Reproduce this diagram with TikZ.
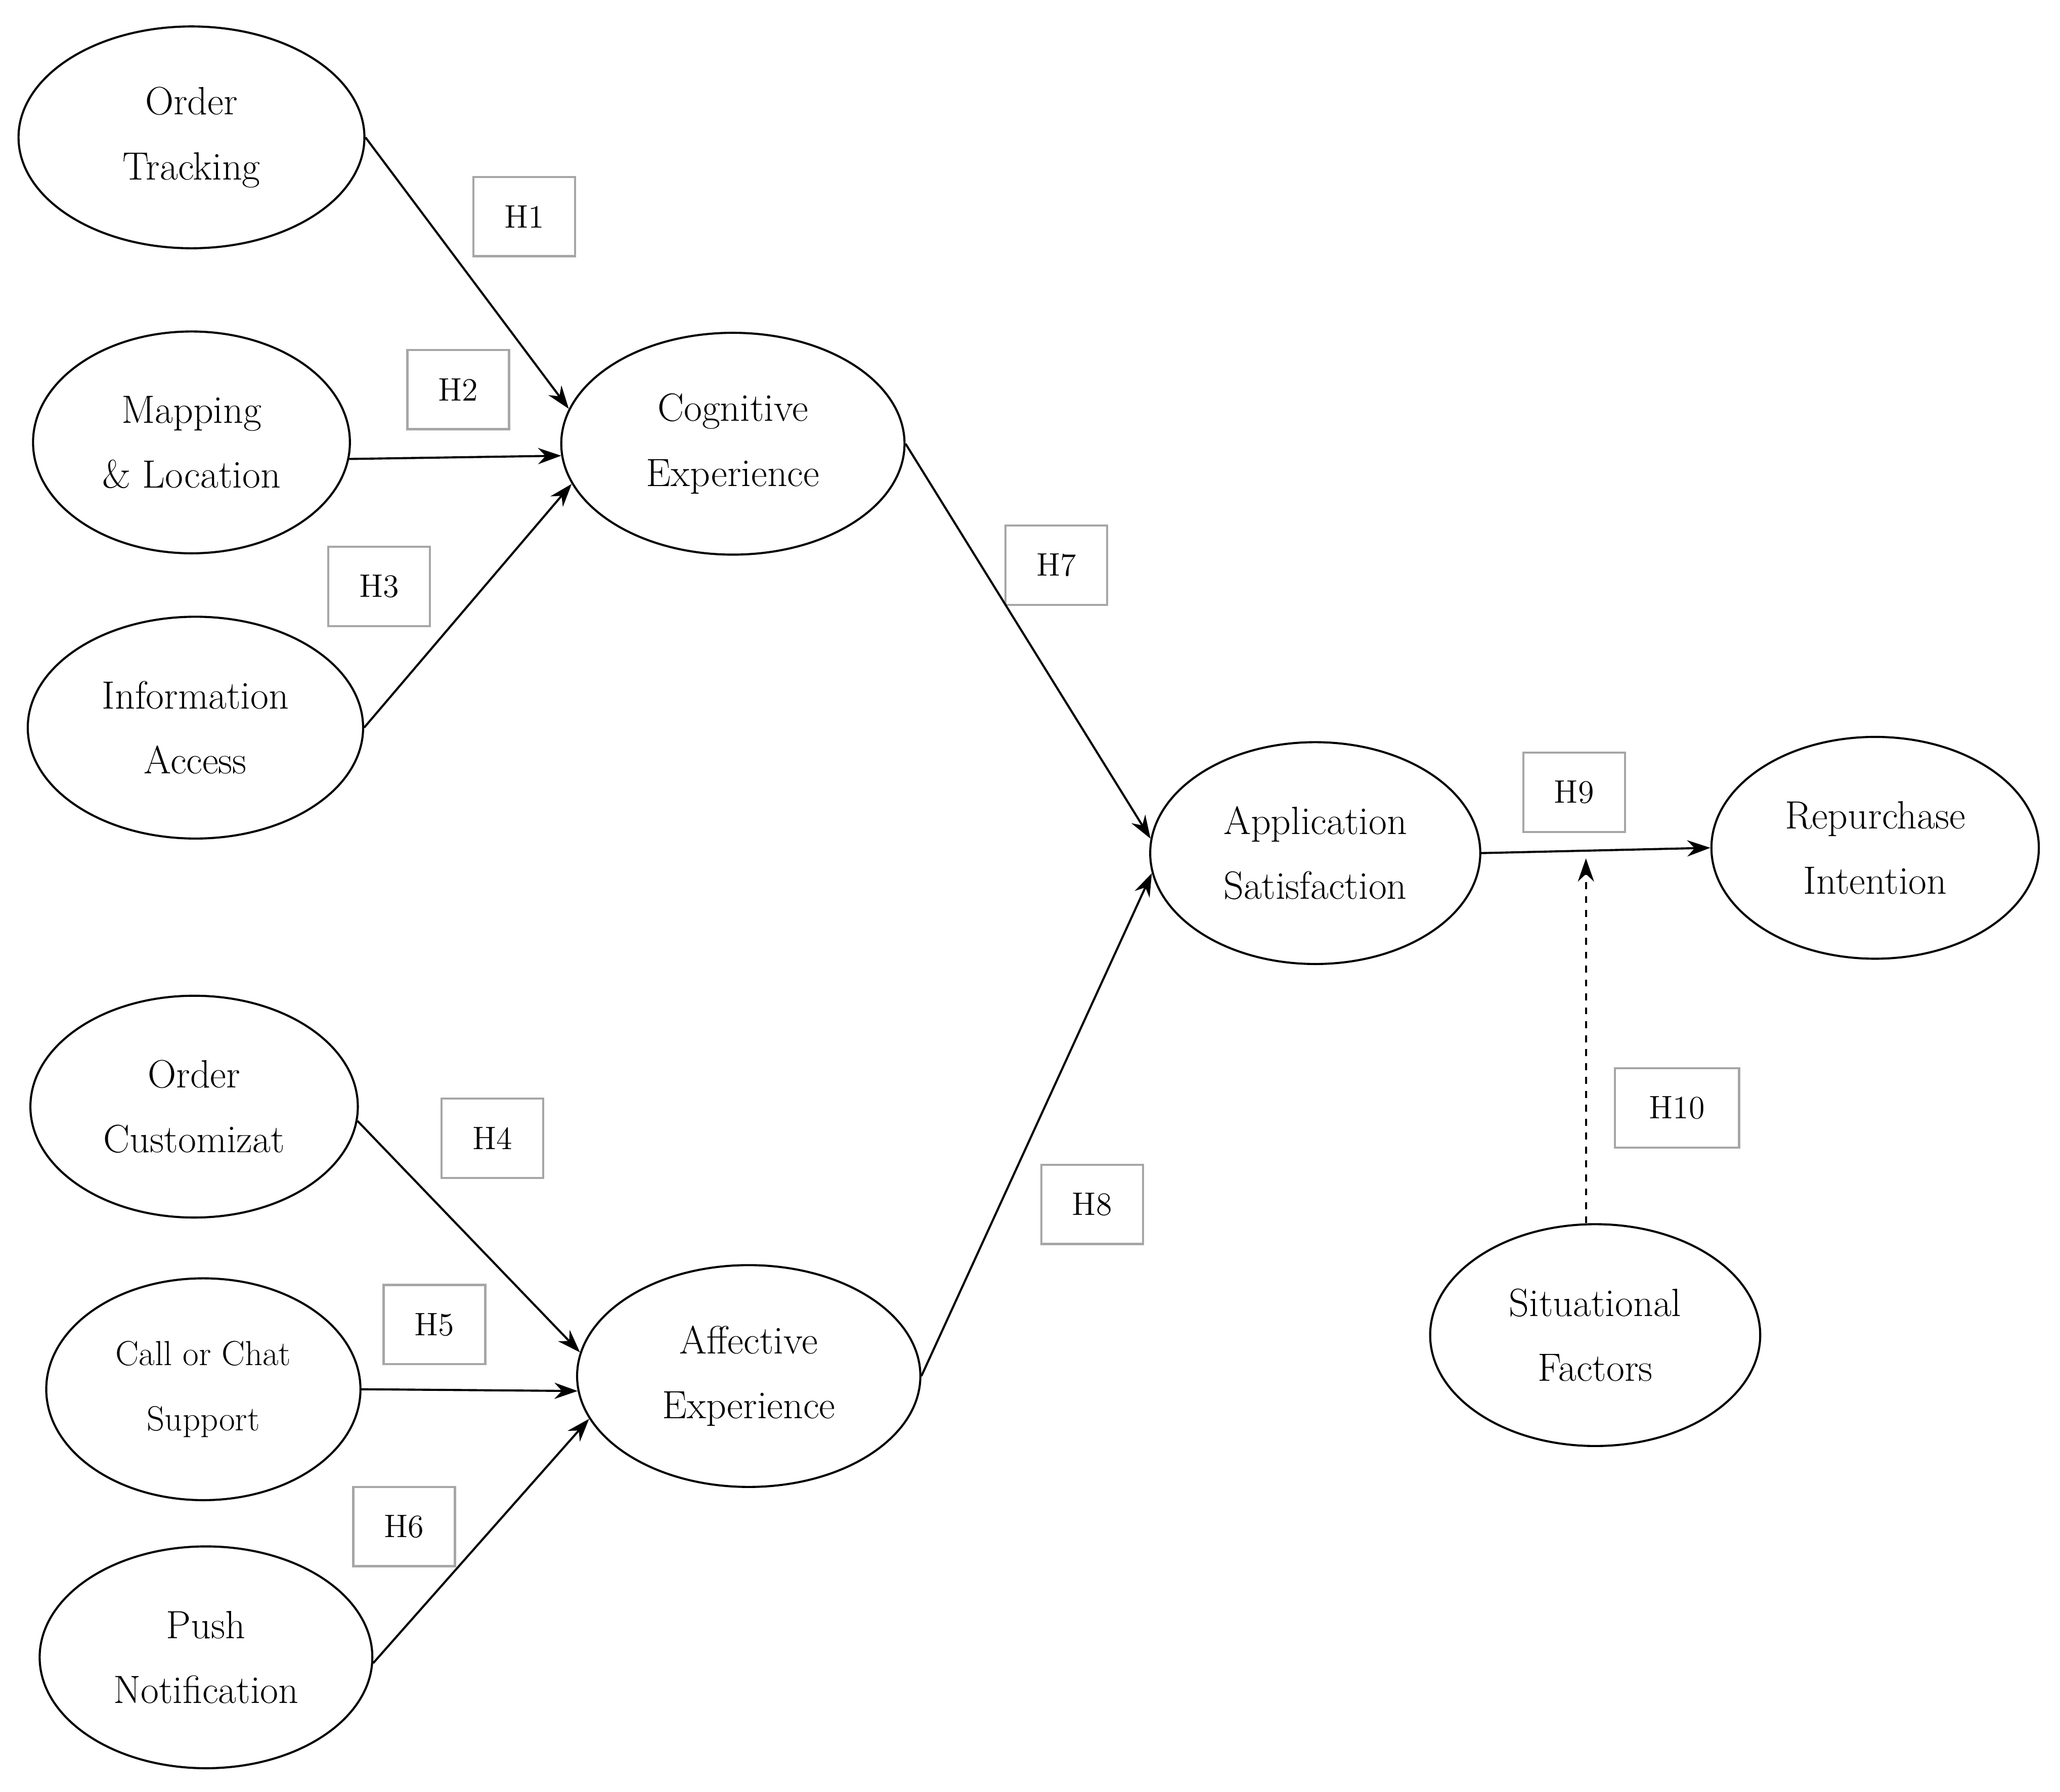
\documentclass[tikz,border=0pt]{standalone}
\usetikzlibrary{shapes.geometric,arrows.meta}
\tikzset{
  construct/.style={ellipse, draw, line width=0.9pt, inner sep=0pt, align=center,
    font=\fontsize{17}{28}\selectfont},
  hyp/.style={draw=gray!70, line width=0.9pt, minimum width=1.54cm, minimum height=1.2cm,
    font=\fontsize{14}{16}\selectfont},
  path/.style={line width=0.9pt, -{Stealth[length=10pt,width=7pt]}}
}
\begin{document}
\begin{tikzpicture}[x=0.02cm, y=-0.02cm]
\useasboundingbox (0,0) rectangle (1560,1357);

% constructs
\node[construct, minimum width=5.24cm, minimum height=3.36cm] (track) at (145,104) {Order\\Tracking};
\node[construct, minimum width=4.8cm, minimum height=3.36cm] (map) at (145,335) {Mapping\\\& Location};
\node[construct, minimum width=5.08cm, minimum height=3.36cm] (info) at (148,551) {Information\\Access};
\node[construct, minimum width=5.2cm, minimum height=3.36cm] (cog) at (555,336) {Cognitive\\Experience};
\node[construct, minimum width=4.96cm, minimum height=3.36cm] (cust) at (147,838) {Order\\Customizat};
\node[construct, minimum width=4.76cm, minimum height=3.36cm, font=\fontsize{15}{28}\selectfont] (call) at (154,1052) {Call or Chat\\Support};
\node[construct, minimum width=5.04cm, minimum height=3.36cm] (push) at (156,1255) {Push\\Notification};
\node[construct, minimum width=5.2cm, minimum height=3.36cm] (aff) at (567,1042) {Affective\\Experience};
\node[construct, minimum width=5.0cm, minimum height=3.36cm] (sat) at (996,646) {Application\\Satisfaction};
\node[construct, minimum width=4.96cm, minimum height=3.36cm] (rep) at (1420,642) {Repurchase\\Intention};
\node[construct, minimum width=5.0cm, minimum height=3.36cm] (sit) at (1208,1011) {Situational\\Factors};

% hypotheses
\node[hyp] (h1) at (397,164) {H1};
\node[hyp] (h2) at (347,295) {H2};
\node[hyp] (h3) at (287,444) {H3};
\node[hyp] (h7) at (800,428) {H7};
\node[hyp] (h4) at (373,862) {H4};
\node[hyp] (h5) at (329,1003) {H5};
\node[hyp] (h6) at (306,1156) {H6};
\node[hyp] (h8) at (827,912) {H8};
\node[hyp] (h9) at (1192,600) {H9};
\node[hyp, minimum width=1.88cm] (h10) at (1270,839) {H10};

% paths
\draw[path] (track.east) -- (cog.168);
\draw[path] (map.354) -- (cog.184);
\draw[path] (info.east) -- (cog.194);
\draw[path] (cust.355) -- (aff.172);
\draw[path] (call.east) -- (aff.185);
\draw[path] (push.358) -- (aff.195);
\draw[path] (cog.east) -- (sat.175);
\draw[path] (aff.east) -- (sat.187);
\draw[path] (sat.east) -- (rep.west);
\coordinate (mod) at (1201,650);
\draw[path, dashed] (sit.north -| mod) -- (mod);
\end{tikzpicture}
\end{document}
